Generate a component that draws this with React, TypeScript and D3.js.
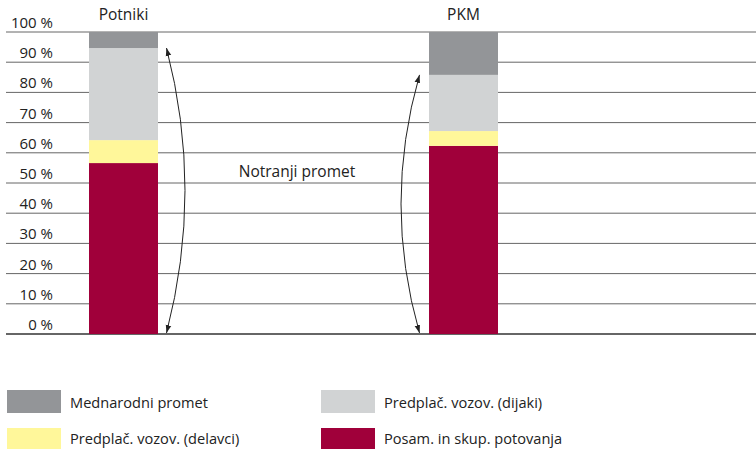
import React from "react";
import * as d3 from "d3";

const categories = ["Potniki", "PKM"];
const seriesNames = [
  "Posam. in skup. potovanja",
  "Predplač. vozov. (delavci)",
  "Predplač. vozov. (dijaki)",
  "Mednarodni promet",
];
const posamezne = [56.6, 62.3];
const delavci = [7.6, 4.9];
const dijaki = [30.5, 18.6];
const mednarodni = [5.3, 14.2];
const yTicks = [0, 10, 20, 30, 40, 50, 60, 70, 80, 90, 100];
const colors = ["#a0003a", "#fff79a", "#d1d3d4", "#939598"];
const legendOrder = [3, 2, 1, 0];
const annotation = "Notranji promet";

const W = 756;
const H = 449;
const FONT = "'Open Sans', 'Noto Sans', sans-serif";

export default function App() {
  const y = d3.scaleLinear().domain([0, 100]).range([334, 32]);
  const x = d3.scaleOrdinal<string, number>().domain(categories).range([89, 429]);
  const bw = 69;
  const rows = categories.map((c, i) => ({
    cat: c,
    vals: [posamezne[i], delavci[i], dijaki[i], mednarodni[i]],
  }));
  const stack = d3.stack<any>().keys([0, 1, 2, 3] as any).value((d: any, k: any) => d.vals[k]);
  const series = stack(rows as any);

  const domesticTop = rows.map((r) => r.vals[0] + r.vals[1] + r.vals[2]);
  const arrowX = [x(categories[0]) + bw + 8.5, x(categories[1]) - 9.5];
  const bulge = [37, -37];

  return (
    <svg width={W} height={H} style={{ position: "absolute", left: 0, top: 0 }} fontFamily={FONT}>
      <defs>
        <marker id="ah" viewBox="0 0 10 10" refX="10" refY="5" markerWidth="8" markerHeight="8" orient="auto-start-reverse" markerUnits="userSpaceOnUse">
          <path d="M0,1.5 L10,5 L0,8.5 Z" fill="#222" />
        </marker>
      </defs>
      {yTicks.map((t) => (
        <g key={t}>
          <line x1={6} x2={W} y1={y(t)} y2={y(t)} stroke={t === 0 ? "#333" : "#666"} strokeWidth={t === 0 ? 1.3 : 1} />
          <text x={53} y={y(t) - 4} textAnchor="end" fontSize={15} fill="#222">
            {t} %
          </text>
        </g>
      ))}
      {series.map((s, si) =>
        s.map((d, i) => (
          <rect
            key={si + "-" + i}
            x={x(categories[i])}
            width={bw}
            y={y(d[1])}
            height={y(d[0]) - y(d[1])}
            fill={colors[si]}
          />
        ))
      )}
      {categories.map((c) => (
        <text key={c} x={x(c) + bw / 2} y={20} textAnchor="middle" fontSize={15.5} fill="#222">
          {c}
        </text>
      ))}
      {categories.map((c, i) => {
        const x0 = arrowX[i];
        const y0 = y(domesticTop[i]);
        const y1 = y(0) - 1;
        const cx = x0 + bulge[i];
        const cy = (y0 + y1) / 2;
        return (
          <path
            key={"a" + c}
            d={`M${x0},${y0} Q${cx},${cy} ${x0},${y1}`}
            fill="none"
            stroke="#222"
            strokeWidth={1}
            markerStart="url(#ah)"
            markerEnd="url(#ah)"
          />
        );
      })}
      <text x={297} y={177} textAnchor="middle" fontSize={15.5} fill="#222">
        {annotation}
      </text>
      {legendOrder.map((si, k) => {
        const col = k % 2;
        const row = Math.floor(k / 2);
        const lx = col === 0 ? 7 : 321;
        const ly = row === 0 ? 390 : 428;
        return (
          <g key={"l" + si}>
            <rect x={lx} y={ly} width={54} height={row === 0 ? 23 : 21} fill={colors[si]} />
            <text x={lx + 63} y={row === 0 ? 408 : 444} fontSize={14.6} fill="#222">
              {seriesNames[si]}
            </text>
          </g>
        );
      })}
    </svg>
  );
}
